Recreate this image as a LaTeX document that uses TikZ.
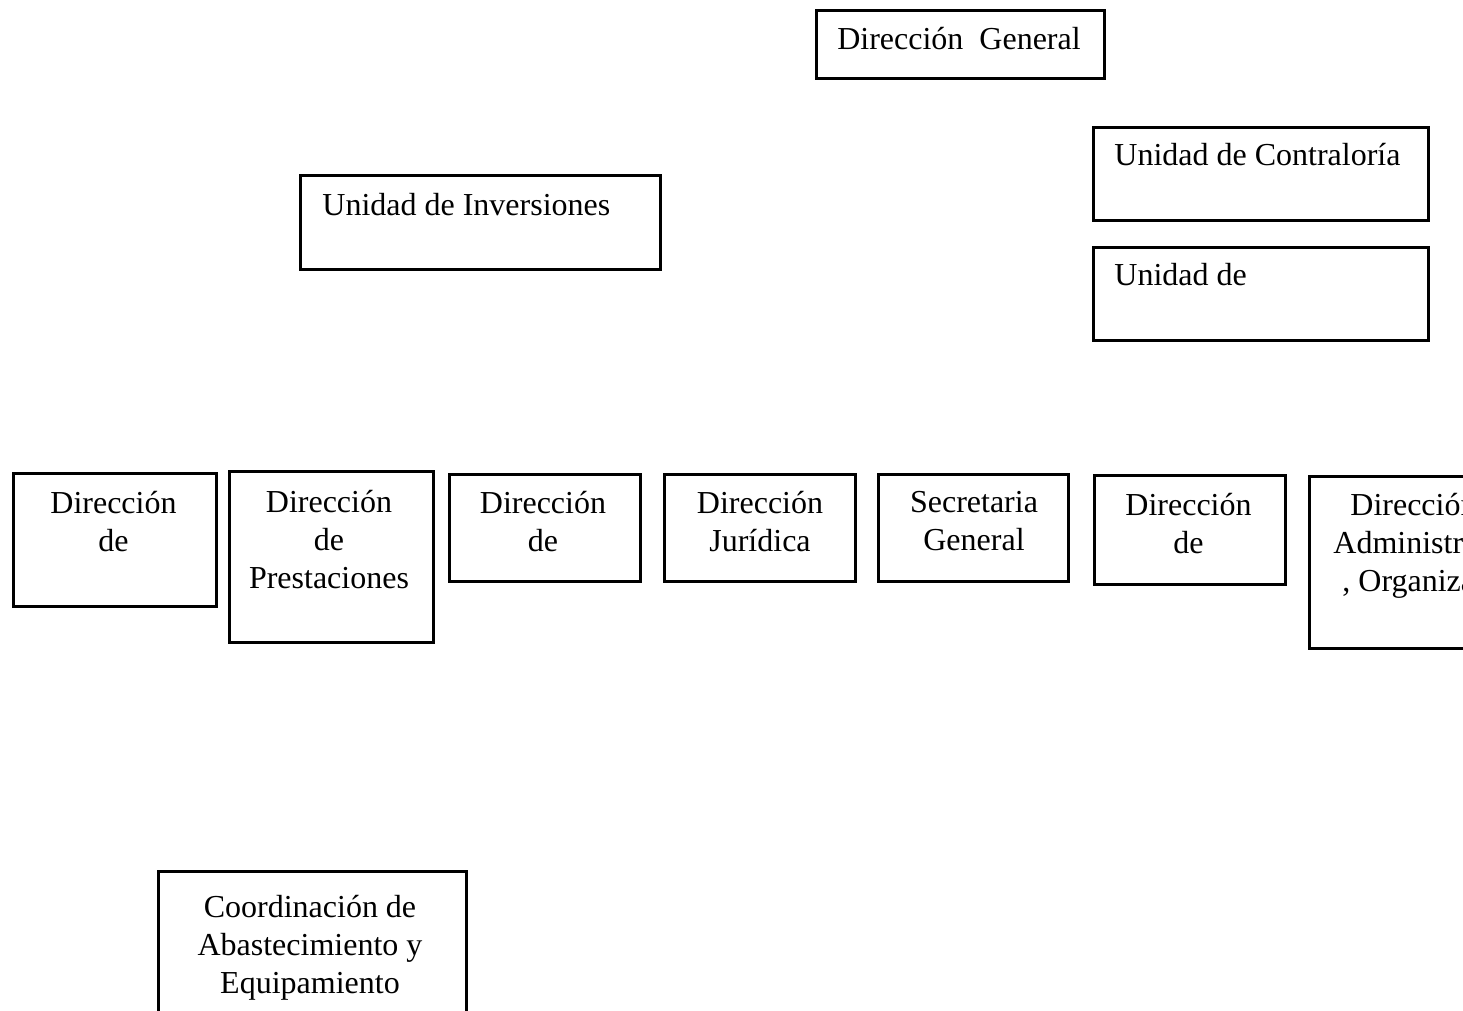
\documentclass[tikz,border=0pt]{standalone}
\usepackage{fontspec}
\setmainfont{Liberation Serif}
\usetikzlibrary{fit}
\tikzset{
  orgbox/.style={draw, line width=1.7pt, inner sep=0pt, outer sep=0pt},
  lbl/.style={inner sep=0pt, align=center, font=\fontsize{16}{19}\selectfont}
}
\begin{document}
\begin{tikzpicture}[x=0.5pt, y=-0.5pt]
      \useasboundingbox (0,0) rectangle (1463,1011);
      \clip (0,0) rectangle (1463,1011);
      % upper units
      \node[orgbox, fit={(816.6,10.6) (1104.4,78.4)}] (dirgen) {};
      \node[orgbox, fit={(300.6,175.6) (660.4,269.4)}] (inv) {};
      \node[orgbox, fit={(1093.6,127.6) (1428.4,220.4)}] (contra) {};
      \node[orgbox, fit={(1093.6,247.6) (1428.4,340.4)}] (unid) {};
      \node[lbl, anchor=north] (dirgen-t) at (959,27) {Dirección\ \ General};
      \node[lbl, anchor=north west] (inv-t) at (322,193) {Unidad de Inversiones};
      \node[lbl, anchor=north west] (contra-t) at (1114,143) {Unidad de Contraloría};
      \node[lbl, anchor=north west] (unid-t) at (1114,263) {Unidad de};
      % row of directions
      \node[orgbox, fit={(13.6,473.6) (216.4,606.4)}] (dir1) {};
      \node[orgbox, fit={(229.6,471.6) (433.4,642.4)}] (dir2) {};
      \node[orgbox, fit={(449.6,474.6) (640.4,581.4)}] (dir3) {};
      \node[orgbox, fit={(664.6,474.6) (855.4,581.4)}] (dir4) {};
      \node[orgbox, fit={(878.6,474.6) (1068.4,581.4)}] (dir5) {};
      \node[orgbox, fit={(1094.6,475.6) (1285.4,584.4)}] (dir6) {};
      \node[orgbox, fit={(1309.6,476.6) (1530,648.4)}] (dir7) {};
      \node[lbl, anchor=north] (dir1-t) at (113.5,491) {Dirección\\de};
      \node[lbl, anchor=north] (dir2-t) at (329,490) {Dirección\\de\\Prestaciones};
      \node[lbl, anchor=north] (dir3-t) at (543,491) {Dirección\\de};
      \node[lbl, anchor=north] (dir4-t) at (760,491) {Dirección\\Jurídica};
      \node[lbl, anchor=north] (dir5-t) at (974,491) {Secretaria\\General};
      \node[lbl, anchor=north] (dir6-t) at (1188.5,493) {Dirección\\de};
      \node[lbl, anchor=north west, align=left] (dir7-t) at (1333,493)
        {\hspace*{8.5pt}Dirección\\Administración\\\hspace*{4.5pt}, Organización};
      % lower unit
      \node[orgbox, fit={(158.6,871.6) (466.4,1080)}] (coord) {};
      \node[lbl, anchor=north] (coord-t) at (310,895) {Coordinación de\\Abastecimiento y\\Equipamiento};
    \end{tikzpicture}
\end{document}
